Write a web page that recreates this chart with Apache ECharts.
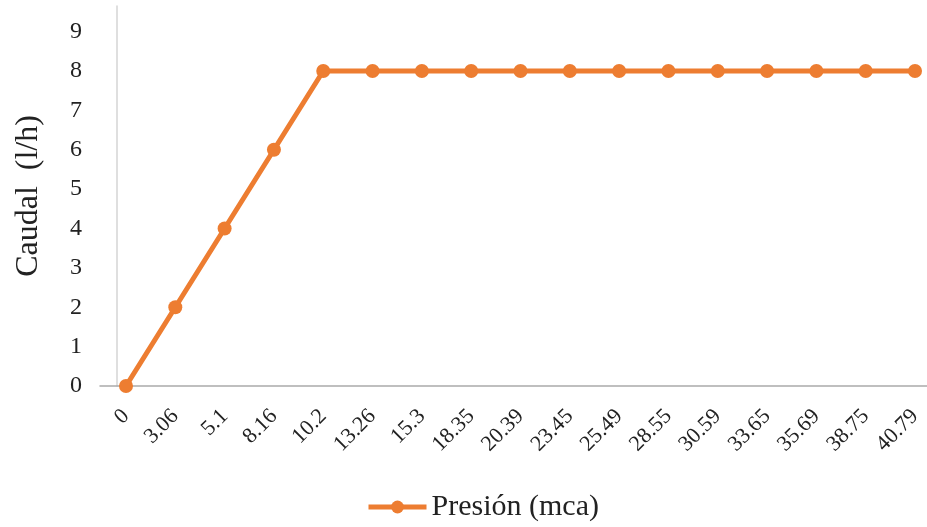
<!DOCTYPE html>
<html>
<head>
<meta charset="utf-8">
<script src="https://cdn.jsdelivr.net/npm/echarts@6/dist/echarts.min.js"></script>
<style>html,body{margin:0;padding:0;background:#fff}#c{width:927px;height:527px}</style>
</head>
<body>
<div id="c"></div>
<script>
const categories = ['0','3.06','5.1','8.16','10.2','13.26','15.3','18.35','20.39','23.45','25.49','28.55','30.59','33.65','35.69','38.75','40.79'];
const caudal = [0,2,4,6,8,8,8,8,8,8,8,8,8,8,8,8,8];
const seriesName = 'Presión (mca)';
const yTitle = 'Caudal  (l/h)';

const idx = categories.map((c, i) => i);
const chart = echarts.init(document.getElementById('c'));
const font = '"Liberation Serif", "Times New Roman", serif';
chart.setOption({
  animation: false,
  textStyle: { fontFamily: font },
  grid: { left: 100, right: 0, top: 6, bottom: 141, containLabel: false },
  legend: {
    data: [seriesName], left: 361, top: 487, itemWidth: 58, itemHeight: 16, itemGap: 3,
    lineStyle: { width: 5 },
    textStyle: { fontFamily: font, fontSize: 30, color: '#222' }
  },
  xAxis: {
    type: 'value', min: -0.527, max: 16.243,
    splitLine: { show: false },
    axisLine: { onZero: false, lineStyle: { color: '#aaaaaa', width: 1.5 } },
    axisTick: { show: false },
    axisLabel: {
      customValues: idx,
      formatter: v => categories[Math.round(v)],
      rotate: 45, margin: 27, fontSize: 22, color: '#222', fontFamily: font,
      showMinLabel: true, showMaxLabel: true
    }
  },
  yAxis: {
    type: 'value', min: 0, max: 9.65, interval: 1, offset: -17,
    name: yTitle, nameLocation: 'middle', nameGap: 72, nameRotate: 90,
    nameTextStyle: { fontFamily: font, fontSize: 32, color: '#222' },
    splitLine: { show: false },
    axisLine: { show: true, onZero: false, lineStyle: { color: '#d4d4d4', width: 1.5 } },
    axisTick: { show: false },
    axisLabel: { margin: 35, fontSize: 24, color: '#222', fontFamily: font, showMaxLabel: false }
  },
  series: [{
    name: seriesName, type: 'line',
    data: idx.map(i => [i, caudal[i]]),
    symbol: 'circle', symbolSize: 14,
    itemStyle: { color: '#ED7D31' },
    lineStyle: { color: '#ED7D31', width: 5 }
  }]
});
</script>
</body>
</html>
